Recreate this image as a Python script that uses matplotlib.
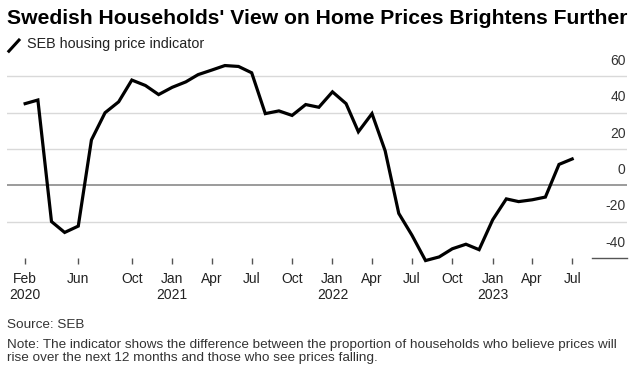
import matplotlib.pyplot as plt
import matplotlib.dates as mdates
from matplotlib.lines import Line2D
import pandas as pd

# monthly SEB housing price indicator, Feb 2020 .. Jul 2023
months = pd.date_range("2020-02-01", "2023-07-01", freq="MS")
values = [45, 47, -20, -26, -22.5, 25, 40, 46, 58, 55, 50, 54,
          57, 61, 63.5, 66, 65.5, 62, 39.5, 41, 38.5, 44.5, 43, 51.5,
          45, 29.5, 39.5, 19, -15.5, -27.5, -41.5, -39.5, -35, -32.5, -35.5, -19,
          -7.5, -9, -8, -6.5, 11.5, 14.5]

tick_dates = ["2020-02", "2020-06", "2020-10", "2021-01", "2021-04", "2021-07",
              "2021-10", "2022-01", "2022-04", "2022-07", "2022-10", "2023-01",
              "2023-04", "2023-07"]
tick_labels = ["Feb\n2020", "Jun", "Oct", "Jan\n2021", "Apr", "Jul", "Oct",
               "Jan\n2022", "Apr", "Jul", "Oct", "Jan\n2023", "Apr", "Jul"]
y_ticks = [60, 40, 20, 0, -20, -40]

plt.rcParams["font.family"] = ["Liberation Sans", "DejaVu Sans"]

fig = plt.figure(figsize=(6.33, 3.71), dpi=100)
ax = fig.add_axes([0.0106, 0.305, 0.98, 0.533])

x0 = pd.Timestamp("2019-12-21")
x1 = pd.Timestamp("2023-11-03")
ax.set_xlim(x0, x1)
ax.set_ylim(-40, 69)

# gridlines
for v in y_ticks[:-1]:
    if v == 0:
        ax.axhline(0, color="#8a8a8a", lw=1.2, zorder=1)
    else:
        ax.axhline(v, color="#d9d9d9", lw=1, zorder=1)
ax.plot([pd.Timestamp("2023-08-15"), x1], [-40, -40], color="#555555", lw=1,
        clip_on=False, zorder=1)

for v in y_ticks:
    ax.annotate(str(v), xy=(1, v), xycoords=("axes fraction", "data"),
                xytext=(-1, 6), textcoords="offset points",
                ha="right", va="bottom", fontsize=10, color="#333333")

ax.plot(months, values, color="black", lw=2.3, solid_joinstyle="miter",
        clip_on=False, zorder=3)

ax.set_xticks(pd.to_datetime(tick_dates))
ax.set_xticklabels(tick_labels, fontsize=10, linespacing=1.25, color="#222222")
ax.tick_params(axis="x", length=4, width=1, color="#555555", pad=6)
ax.tick_params(axis="y", left=False, labelleft=False)
for s in ax.spines.values():
    s.set_visible(False)

fig.text(0.011, 0.935, "Swedish Households' View on Home Prices Brightens Further",
         fontsize=15.2, fontweight="bold", ha="left", va="baseline")
fig.add_artist(Line2D([0.014, 0.03], [0.862, 0.892], color="black", lw=2.2))
fig.text(0.043, 0.87, "SEB housing price indicator", fontsize=10.4,
         ha="left", va="baseline", color="#222222")

fig.text(0.011, 0.116, "Source: SEB", fontsize=9.7, color="#333333", va="baseline")
fig.text(0.011, 0.026,
         "Note: The indicator shows the difference between the proportion of households who believe prices will\n"
         "rise over the next 12 months and those who see prices falling.",
         fontsize=9.7, color="#333333", va="baseline", linespacing=1.1)

fig.savefig("out.png", dpi=100)
